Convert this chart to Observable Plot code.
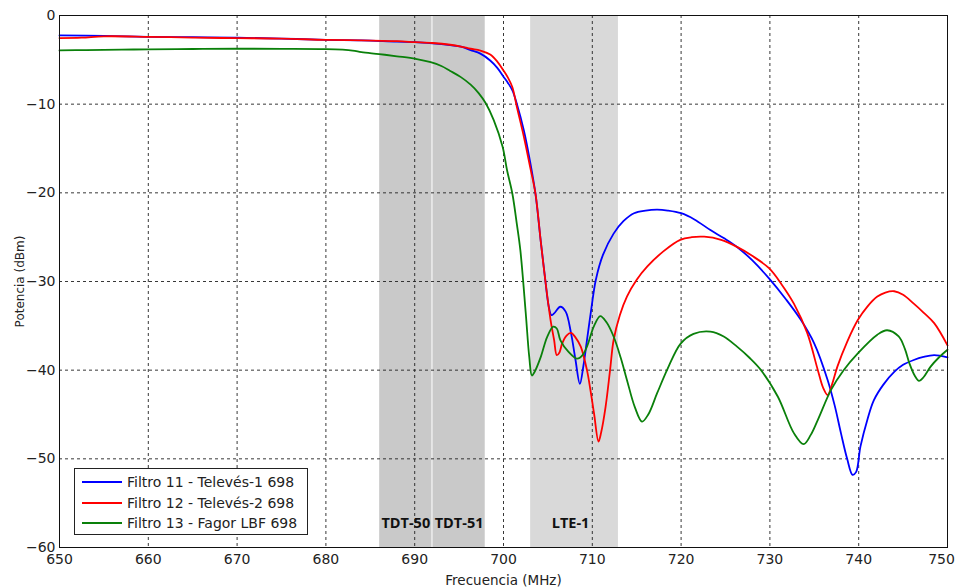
<!DOCTYPE html>
<html>
<head>
<meta charset="utf-8">
<script src="https://cdn.jsdelivr.net/npm/d3@7"></script>
<script src="https://cdn.jsdelivr.net/npm/@observablehq/plot@0.6"></script>
<style>
  html, body { margin: 0; padding: 0; background: #fff; }
  #wrap { position: relative; width: 957px; height: 588px; }
  #legend {
    position: absolute; left: 74px; top: 468px; width: 232px; height: 65px;
    border: 1px solid #222; background: #fff;
    font-family: "DejaVu Sans", sans-serif; font-size: 14px; color: #222;
  }
  #legend .row { position: absolute; left: 0; height: 20px; display: flex; align-items: center; }
  #legend .sw { width: 40px; height: 2px; margin-left: 7px; margin-right: 5px; }
</style>
</head>
<body>
<div id="wrap"></div>
<script>
// ---- data ----
const seriesNames = ["Filtro 11 - Televés-1 698", "Filtro 12 - Televés-2 698", "Filtro 13 - Fagor LBF 698"];
const seriesColors = ["#0000ff", "#ff0000", "#0a800a"];

const freqBlue = [650,655,660,665,670,675,680,684,688,690,692,694,695.2,696.3,697.4,698.5,699.3,700.0,700.5,701.0,701.5,702.3,703.0,703.6,704.2,704.7,705.1,705.4,705.7,706.4,707.0,707.6,708.1,708.6,709.0,709.4,709.9,710.4,711.2,712.4,713.5,714.7,716,717.3,718.5,720,721.5,723.3,724.8,726.3,728,729.9,731.8,733.5,735.0,736.5,737.3,738.0,738.7,739.3,739.7,740.2,741.0,741.7,742.8,744.0,745,746.2,747.3,748.5,750];
const potBlue  = [-2.25,-2.3,-2.4,-2.45,-2.5,-2.6,-2.75,-2.8,-2.95,-3.0,-3.15,-3.35,-3.5,-3.9,-4.3,-5.07,-5.9,-6.9,-7.6,-8.45,-9.95,-13.0,-16.5,-20.1,-25.5,-29.8,-32.85,-33.8,-33.6,-32.85,-33.4,-35.8,-38.8,-41.55,-39.5,-36.6,-33.0,-29.8,-27.0,-24.6,-23.2,-22.3,-22.0,-21.9,-22.0,-22.3,-23.0,-24.2,-25.1,-26.1,-27.6,-29.65,-32.0,-34.35,-37.0,-41.1,-44.0,-47.1,-50.0,-51.8,-51.5,-48.6,-45.5,-43.4,-41.6,-40.2,-39.4,-38.85,-38.5,-38.3,-38.55];

const freqRed = [650,652.5,655,660,665,670,675,680,684,688,690,692,694,695.2,696.3,697.4,698.5,699.3,700.0,700.5,701.0,701.5,702.3,703.0,703.6,704.2,704.7,705.3,705.7,706.0,706.3,706.6,707.1,707.6,708.1,708.7,709.4,709.8,710.2,710.7,711.0,711.5,712.0,712.4,713.1,713.9,715,716.2,718,719.9,721.2,722.6,724.5,726.3,728,729.9,731.3,732.7,734.2,735.4,736.0,736.5,737.0,737.6,738.7,739.9,741,742.1,743,744.0,745,746.2,747.3,748.5,750];
const potRed  = [-2.55,-2.5,-2.35,-2.4,-2.5,-2.55,-2.6,-2.75,-2.8,-2.9,-3.0,-3.1,-3.3,-3.5,-3.75,-3.95,-4.4,-5.2,-6.2,-7.0,-8.1,-10.3,-13.7,-17.1,-20.1,-25.5,-29.8,-34.35,-36.6,-38.3,-38.0,-37.0,-36.1,-35.8,-36.3,-37.35,-40.0,-42.3,-44.9,-48.05,-47.0,-44.1,-40.0,-36.6,-33.8,-31.7,-29.8,-28.3,-26.6,-25.3,-25.0,-24.95,-25.3,-26.1,-27.1,-28.5,-30.3,-32.5,-35.8,-40.0,-42.0,-42.8,-41.6,-39.6,-36.8,-34.35,-32.8,-31.7,-31.25,-31.1,-31.5,-32.5,-33.5,-34.7,-37.2];

const freqGreen = [650,653,657,660,665,670,675,680,683,684,686,688,690.1,691.8,693,694,695.2,696.3,697.2,698.0,698.9,699.9,700.4,701.0,701.5,701.9,702.5,702.9,703.2,703.5,704.2,704.9,705.6,706.0,706.4,707.3,708.3,708.9,709.4,710.2,710.9,711.6,712.4,713.2,713.9,714.8,715.6,716.3,717.3,718.5,719.95,721.4,723.3,724.8,726.3,727.7,729.0,730.9,732.7,733.8,734.6,735.4,736.9,738.3,739.9,742.1,743.2,744.5,745.2,745.7,746.3,746.8,747.3,748.1,749,750];
const potGreen  = [-3.94,-3.9,-3.85,-3.82,-3.78,-3.75,-3.76,-3.8,-3.95,-4.13,-4.35,-4.6,-4.88,-5.26,-5.7,-6.25,-6.95,-7.8,-8.75,-9.9,-11.8,-14.8,-17.45,-20.1,-23.5,-26.5,-33.5,-38.5,-40.6,-40.2,-38.5,-36.3,-35.1,-35.3,-36.6,-37.9,-38.7,-38.3,-37.35,-35.0,-33.9,-34.6,-36.2,-38.6,-41.1,-44.2,-45.8,-45.0,-42.6,-39.8,-37.0,-35.9,-35.65,-36.2,-37.35,-38.6,-40.0,-43.0,-47.1,-48.35,-47.3,-45.6,-42.2,-40.0,-38.1,-36.0,-35.5,-36.2,-37.6,-39.2,-40.6,-41.2,-40.8,-39.6,-38.6,-37.7];

const bandNames = ["TDT-50", "TDT-51", "LTE-1"];
const bandStart = [686, 692, 703];
const bandEnd   = [692, 698, 713];
const bandFill  = ["#c9c9c9", "#c9c9c9", "#d9d9d9"];

const xTicks = [650,660,670,680,690,700,710,720,730,740,750];
const yTicks = [0,-10,-20,-30,-40,-50,-60];

// ---- tables built from the arrays ----
const freqs = [freqBlue, freqRed, freqGreen];
const pots = [potBlue, potRed, potGreen];
const rows = [];
seriesNames.forEach((name, i) => {
  freqs[i].forEach((f, j) => rows.push({series: name, f, p: pots[i][j]}));
});
const bands = bandNames.map((n, i) => ({name: n, x1: bandStart[i], x2: bandEnd[i], fill: bandFill[i]}));

const chart = Plot.plot({
  width: 957,
  height: 588,
  marginLeft: 59,
  marginRight: 10,
  marginTop: 15,
  marginBottom: 41,
  style: {fontFamily: "DejaVu Sans, sans-serif", fontSize: "14px", color: "#222", background: "#fff"},
  x: {domain: [650, 750], ticks: xTicks, tickSize: 0, tickPadding: 7, label: "Frecuencia (MHz)", labelAnchor: "center", labelOffset: 37, labelArrow: "none"},
  y: {domain: [-60, 0], ticks: yTicks, tickSize: 0, tickPadding: 4, label: "Potencia (dBm)", labelAnchor: "center", labelOffset: 44, labelArrow: "none"},
  color: {domain: seriesNames, range: seriesColors},
  marks: [
    Plot.rectX(bands, {x1: "x1", x2: "x2", y1: -60, y2: 0, fill: "fill", insetLeft: 0.5, insetRight: 0.5}),
    Plot.gridX(xTicks.slice(1, -1), {stroke: "#222", strokeOpacity: 0.9, strokeDasharray: "3,3"}),
    Plot.gridY(yTicks.slice(1, -1), {stroke: "#222", strokeOpacity: 0.9, strokeDasharray: "3,3"}),
    Plot.text(bands, {x: d => (d.x1 + d.x2) / 2, text: "name", frameAnchor: "bottom", dy: -20, fontFamily: "Open Sans, sans-serif", fontWeight: "bold", fontSize: 14.5, fill: "#111"}),
    Plot.line(rows, {x: "f", y: "p", z: "series", stroke: "series", strokeWidth: 1.8, curve: "catmull-rom"}),
    Plot.frame({stroke: "#111", strokeWidth: 1})
  ]
});

const wrap = document.getElementById("wrap");
wrap.appendChild(chart);
d3.select(chart).selectAll('[aria-label="y-axis label"] text').style("font-size", "12px");
d3.select(chart).selectAll('[aria-label="x-axis label"] text').style("font-size", "13.5px");
// keep the last x tick label inside the picture, as in the reference
const xt = d3.select(chart).selectAll('[aria-label="x-axis tick label"] text').nodes();
if (xt.length) d3.select(xt[xt.length - 1]).attr("dx", "-6");
// LTE-1 label sits slightly left of the band centre in the reference
d3.select(chart).selectAll('[aria-label="text"] text').filter(function() { return this.textContent === "LTE-1"; }).attr("dx", "-4");

// legend (HTML, drawn over the plot)
const legend = document.createElement("div");
legend.id = "legend";
seriesNames.forEach((name, i) => {
  const row = document.createElement("div");
  row.className = "row";
  row.style.top = (3 + i * 20.5) + "px";
  const sw = document.createElement("span");
  sw.className = "sw";
  sw.style.background = seriesColors[i];
  const t = document.createElement("span");
  t.textContent = name;
  row.appendChild(sw);
  row.appendChild(t);
  legend.appendChild(row);
});
wrap.appendChild(legend);
</script>
</body>
</html>
